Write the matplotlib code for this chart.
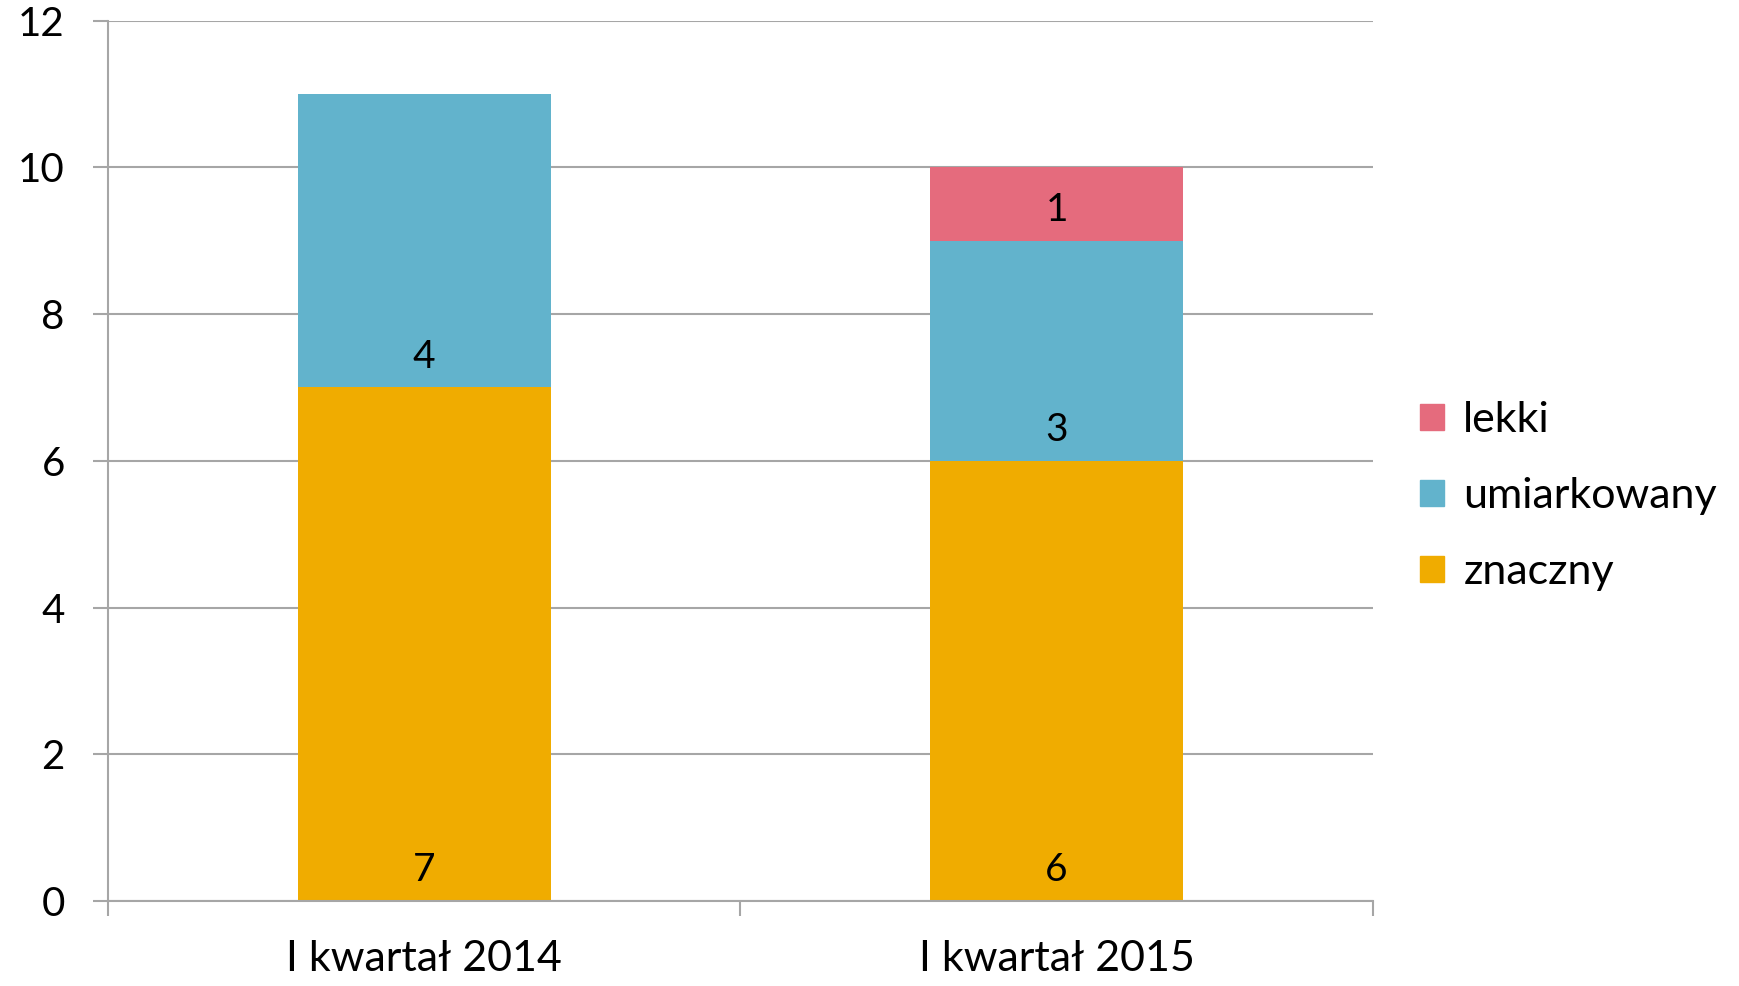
import numpy as np
import matplotlib.pyplot as plt
from matplotlib.patches import Patch

plt.rcParams['font.family'] = ['Lato', 'DejaVu Sans']

categories = ["I kwartał 2014", "I kwartał 2015"]
znaczny = [7, 6]
umiarkowany = [4, 3]
lekki = [0, 1]

series = [("znaczny", znaczny, "#F0AC00"),
          ("umiarkowany", umiarkowany, "#62B3CC"),
          ("lekki", lekki, "#E56B7D")]

grey = "#A6A6A6"

fig = plt.figure(figsize=(17.4, 9.86), dpi=100)
ax = fig.add_axes([0.062, 0.0862, 0.727, 0.893])

x = np.arange(len(categories))
bottom = np.zeros(len(categories))
handles = []
for name, vals, color in series:
    vals = np.array(vals, dtype=float)
    ax.bar(x, vals, 0.4, bottom=bottom, color=color, zorder=2)
    for xi, b, v in zip(x, bottom, vals):
        if v > 0:
            ax.annotate(str(int(v)), (xi, b), xytext=(0, 22), textcoords="offset points",
                        ha="center", va="center", fontsize=28, color="black", zorder=3)
    bottom += vals
    handles.append(Patch(color=color, label=name))

ax.set_xlim(-0.5, 1.5)
ax.set_ylim(0, 12)
ax.set_yticks(range(0, 13, 2))
ax.yaxis.grid(True, color=grey, linewidth=1.5, zorder=0)
ax.set_axisbelow(True)

ax.set_xticks(x)
ax.set_xticklabels(categories, fontsize=31)
ax.set_xticks([-0.5, 0.5, 1.5], minor=True)
ax.tick_params(axis="x", which="major", length=0, pad=28)
ax.tick_params(axis="x", which="minor", length=11, width=1.5, color=grey)
ax.tick_params(axis="y", length=11, width=1.5, color=grey, labelsize=29, pad=20)

for s in ["top", "right"]:
    ax.spines[s].set_visible(False)
for s in ["left", "bottom"]:
    ax.spines[s].set_color(grey)
    ax.spines[s].set_linewidth(1.5)

fig.legend(handles=handles[::-1], loc="center left", bbox_to_anchor=(0.794, 0.497),
           frameon=False, fontsize=31, handlelength=0.55, handleheight=0.55,
           handletextpad=0.45, labelspacing=0.88)

fig.savefig("out.png", dpi=100)
